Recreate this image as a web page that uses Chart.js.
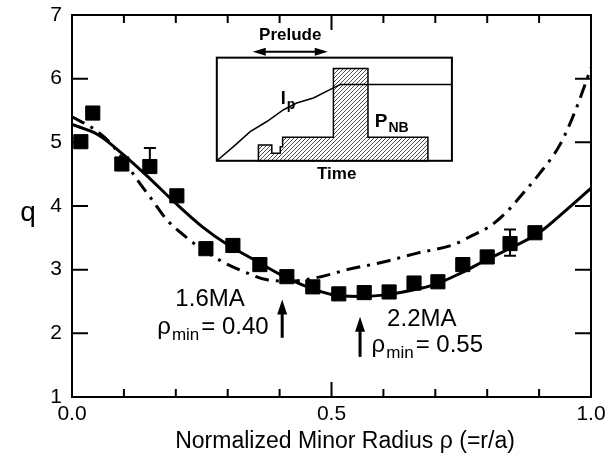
<!DOCTYPE html>
<html>
<head>
<meta charset="utf-8">
<script src="https://cdn.jsdelivr.net/npm/chart.js@4.4.0/dist/chart.umd.min.js"></script>
<style>
  html, body { margin: 0; padding: 0; background: #fff; }
</style>
</head>
<body>
<canvas id="qChart" width="613" height="464"></canvas>
<script>
// measured q profile (squares)
const rhoMeas = [0.017, 0.040, 0.096, 0.150, 0.202, 0.258, 0.310, 0.362, 0.414, 0.464,
                 0.514, 0.563, 0.611, 0.659, 0.705, 0.753, 0.800, 0.844, 0.892];
const qMeas   = [5.01, 5.46, 4.66, 4.62, 4.16, 3.33, 3.38, 3.08, 2.89, 2.73,
                 2.62, 2.64, 2.65, 2.79, 2.81, 3.08, 3.20, 3.41, 3.58];
const qErrLow  = [null, null, null, 4.55, null, null, null, null, null, null,
                  null, null, null, null, null, null, null, 3.22, null];
const qErrHigh = [null, null, null, 4.91, null, null, null, null, null, null,
                  null, null, null, null, null, null, null, 3.63, null];

// 2.2MA fit (solid)
const rhoFit22 = [0, 0.05, 0.1, 0.15, 0.2, 0.25, 0.3, 0.35, 0.4, 0.45, 0.5,
                  0.55, 0.6, 0.65, 0.7, 0.75, 0.8, 0.85, 0.9, 0.95, 1.0];
const qFit22   = [5.28, 5.12, 4.80, 4.43, 4.04, 3.68, 3.39, 3.16, 2.93, 2.74, 2.61,
                  2.58, 2.60, 2.67, 2.77, 2.95, 3.16, 3.36, 3.58, 3.92, 4.28];

// 1.6MA fit (dash-dot)
const rhoFit16 = [0, 0.044, 0.075, 0.1, 0.125, 0.154, 0.183, 0.214, 0.247, 0.291, 0.337,
                  0.376, 0.42, 0.48, 0.53, 0.60, 0.665, 0.734, 0.767, 0.805, 0.838,
                  0.867, 0.90, 0.94, 0.97, 1.0];
const qFit16   = [5.40, 5.20, 4.98, 4.72, 4.42, 4.10, 3.78, 3.55, 3.34, 3.12, 2.95,
                  2.84, 2.82, 2.89, 3.00, 3.12, 3.26, 3.39, 3.52, 3.68, 3.91,
                  4.18, 4.50, 4.96, 5.50, 6.17];

// q minimum positions marked by arrows
const rhoMinArrows = [0.405, 0.555];

// inset: plasma current and beam power vs time (normalised 0..1)
const ipTime  = [0, 0.071, 0.142, 0.213, 0.284, 0.340, 0.411, 0.496, 0.525, 1.0];
const ipLevel = [0, 0.137, 0.283, 0.381, 0.495, 0.560, 0.609, 0.707, 0.739, 0.739];
const pnbTime  = [0.177, 0.234, 0.270, 0.280, 0.496, 0.643, 0.898];
const pnbLevel = [0.153, 0.072, 0.137, 0.228, 0.896, 0.228];
const preludeTime = [0.153, 0.472];

const FONT = '"Liberation Sans", Arial, Helvetica, sans-serif';

// where the inset sits, in axis units
const insetBox = { rho0: 0.279, rho1: 0.732, q0: 4.71, q1: 6.33 };

function pts(xs, ys) {
    return xs.map((x, i) => ({ x: x, y: ys[i] }));
}

function hatchPattern(ctx) {
    const c = document.createElement('canvas');
    c.width = 4; c.height = 4;
    const g = c.getContext('2d');
    g.strokeStyle = '#000';
    g.lineWidth = 0.7;
    g.beginPath();
    g.moveTo(0, 4); g.lineTo(4, 0);
    g.moveTo(-1, 1); g.lineTo(1, -1);
    g.moveTo(3, 5); g.lineTo(5, 3);
    g.stroke();
    return ctx.createPattern(c, 'repeat');
}

function arrowHead(ctx, x, y, dir, len, half) {
    ctx.beginPath();
    if (dir === 'up') {
        ctx.moveTo(x, y); ctx.lineTo(x - half, y + len); ctx.lineTo(x + half, y + len);
    } else if (dir === 'left') {
        ctx.moveTo(x, y); ctx.lineTo(x + len, y - half); ctx.lineTo(x + len, y + half);
    } else {
        ctx.moveTo(x, y); ctx.lineTo(x - len, y - half); ctx.lineTo(x - len, y + half);
    }
    ctx.closePath();
    ctx.fill();
}

// text with a subscript, returns the x where it ends
function subText(ctx, x, y, main, sub, size, subSize, bold) {
    const w = bold ? 'bold ' : '';
    ctx.font = w + size + 'px ' + FONT;
    ctx.textAlign = 'left';
    ctx.textBaseline = 'alphabetic';
    ctx.fillText(main, x, y);
    const mw = ctx.measureText(main).width;
    ctx.font = w + subSize + 'px ' + FONT;
    ctx.fillText(sub, x + mw + 1, y + subSize * 0.35);
    return x + mw + 1 + ctx.measureText(sub).width;
}

function subTextWidth(ctx, main, sub, rest, size, subSize) {
    ctx.font = size + 'px ' + FONT;
    let w = ctx.measureText(main).width + ctx.measureText(rest).width + 3;
    ctx.font = subSize + 'px ' + FONT;
    return w + ctx.measureText(sub).width;
}

const errorBars = {
    id: 'errorBars',
    beforeDatasetsDraw(chart) {
        const ctx = chart.ctx, xs = chart.scales.x, ys = chart.scales.y;
        ctx.save();
        ctx.strokeStyle = '#000';
        ctx.lineWidth = 2;
        for (let i = 0; i < rhoMeas.length; i++) {
            if (qErrHigh[i] == null) continue;
            const x = xs.getPixelForValue(rhoMeas[i]);
            const y0 = ys.getPixelForValue(qErrLow[i]);
            const y1 = ys.getPixelForValue(qErrHigh[i]);
            ctx.beginPath();
            ctx.moveTo(x, y0); ctx.lineTo(x, y1);
            ctx.moveTo(x - 6, y0); ctx.lineTo(x + 6, y0);
            ctx.moveTo(x - 6, y1); ctx.lineTo(x + 6, y1);
            ctx.stroke();
        }
        ctx.restore();
    }
};

const frameAndNotes = {
    id: 'frameAndNotes',
    afterDraw(chart) {
        const ctx = chart.ctx, a = chart.chartArea;
        const xs = chart.scales.x, ys = chart.scales.y;
        ctx.save();
        ctx.strokeStyle = '#000';
        ctx.fillStyle = '#000';

        // frame
        ctx.lineWidth = 2;
        ctx.strokeRect(a.left, a.top, a.right - a.left, a.bottom - a.top);

        // inward ticks
        ctx.beginPath();
        for (let i = 0; i <= 10; i++) {
            const x = xs.getPixelForValue(i / 10);
            const len = (i % 5 === 0) ? 15 : 8;
            ctx.moveTo(x, a.bottom); ctx.lineTo(x, a.bottom - len);
            ctx.moveTo(x, a.top); ctx.lineTo(x, a.top + len);
        }
        for (let q = 2; q <= 6; q++) {
            const y = ys.getPixelForValue(q);
            ctx.moveTo(a.left, y); ctx.lineTo(a.left + 16, y);
            ctx.moveTo(a.right, y); ctx.lineTo(a.right - 16, y);
        }
        ctx.stroke();

        // axis titles
        ctx.font = '28px ' + FONT;
        ctx.textAlign = 'center';
        ctx.textBaseline = 'middle';
        ctx.fillText('q', 28, ys.getPixelForValue(4) + 7);
        ctx.font = '23px ' + FONT;
        ctx.textBaseline = 'alphabetic';
        ctx.fillText('Normalized Minor Radius \u03c1 (=r/a)', 345, 448);

        // rho_min arrows
        ctx.lineWidth = 3;
        const arrowSpan = [[1.93, 2.53], [1.63, 2.26]];
        rhoMinArrows.forEach((r, i) => {
            const x = xs.getPixelForValue(r);
            const yb = ys.getPixelForValue(arrowSpan[i][0]);
            const yt = ys.getPixelForValue(arrowSpan[i][1]);
            ctx.beginPath();
            ctx.moveTo(x, yb); ctx.lineTo(x, yt + 12);
            ctx.stroke();
            arrowHead(ctx, x, yt, 'up', 15, 5);
        });

        // current labels
        ctx.font = '24px ' + FONT;
        ctx.textAlign = 'center';
        ctx.textBaseline = 'middle';
        ctx.fillText('1.6MA', xs.getPixelForValue(0.266), ys.getPixelForValue(2.535));
        ctx.fillText('2.2MA', xs.getPixelForValue(0.674), ys.getPixelForValue(2.22));

        const notes = [['= 0.40', 0.379, 1.987], ['= 0.55', 0.792, 1.705]];
        notes.forEach(n => {
            const w = subTextWidth(ctx, '\u03c1', 'min', n[0], 24, 17);
            const xr = xs.getPixelForValue(n[1]), yb = ys.getPixelForValue(n[2]);
            const xe = subText(ctx, xr - w, yb, '\u03c1', 'min', 24, 17, false);
            ctx.font = '24px ' + FONT;
            ctx.fillText(n[0], xe + 2, yb);
        });

        // inset
        const bx0 = xs.getPixelForValue(insetBox.rho0), bx1 = xs.getPixelForValue(insetBox.rho1);
        const by0 = ys.getPixelForValue(insetBox.q0), by1 = ys.getPixelForValue(insetBox.q1);
        const bw = bx1 - bx0, bh = by0 - by1;
        const tx = t => bx0 + t * bw;
        const ty = v => by0 - v * bh;

        ctx.fillStyle = '#fff';
        ctx.fillRect(bx0, by1, bw, bh);
        ctx.fillStyle = '#000';

        ctx.beginPath();
        ctx.moveTo(tx(pnbTime[0]), ty(0));
        for (let i = 0; i < pnbLevel.length; i++) {
            ctx.lineTo(tx(pnbTime[i]), ty(pnbLevel[i]));
            ctx.lineTo(tx(pnbTime[i + 1]), ty(pnbLevel[i]));
        }
        ctx.lineTo(tx(pnbTime[pnbTime.length - 1]), ty(0));
        ctx.closePath();
        ctx.fillStyle = hatchPattern(ctx);
        ctx.fill();
        ctx.fillStyle = '#000';
        ctx.lineWidth = 1.5;
        ctx.stroke();

        ctx.beginPath();
        ipTime.forEach((t, i) => {
            if (i === 0) ctx.moveTo(tx(t), ty(ipLevel[i]));
            else ctx.lineTo(tx(t), ty(ipLevel[i]));
        });
        ctx.lineWidth = 1.5;
        ctx.stroke();

        ctx.lineWidth = 2;
        ctx.strokeRect(bx0, by1, bw, bh);

        // prelude arrow
        const ay = by1 - 6;
        const ax0 = tx(preludeTime[0]), ax1 = tx(preludeTime[1]);
        ctx.lineWidth = 2;
        ctx.beginPath();
        ctx.moveTo(ax0 + 8, ay); ctx.lineTo(ax1 - 8, ay);
        ctx.stroke();
        arrowHead(ctx, ax0, ay, 'left', 13, 4);
        arrowHead(ctx, ax1, ay, 'right', 13, 4);

        ctx.font = 'bold 17px ' + FONT;
        ctx.textAlign = 'center';
        ctx.textBaseline = 'middle';
        ctx.fillText('Prelude', tx((preludeTime[0] + preludeTime[1]) / 2), by1 - 22);
        ctx.fillText('Time', tx(0.51), by0 + 14);

        subText(ctx, tx(0.272), ty(0.55), 'I', 'p', 18, 14, true);
        subText(ctx, tx(0.672), ty(0.33), 'P', 'NB', 19, 14, true);

        ctx.restore();
    }
};

const dataSets = {
    datasets: [
        {
            label: '2.2MA',
            data: pts(rhoFit22, qFit22),
            showLine: true,
            borderColor: '#000',
            borderWidth: 3,
            pointRadius: 0,
            cubicInterpolationMode: 'monotone',
            fill: false
        },
        {
            label: '1.6MA',
            data: pts(rhoFit16, qFit16),
            showLine: true,
            borderColor: '#000',
            borderWidth: 3,
            borderDash: [14, 7, 3, 7],
            pointRadius: 0,
            cubicInterpolationMode: 'monotone',
            fill: false
        },
        {
            label: 'measured',
            data: pts(rhoMeas, qMeas),
            showLine: false,
            pointStyle: 'rect',
            pointRadius: 10,
            backgroundColor: '#000',
            borderColor: '#000',
            borderWidth: 1
        }
    ]
};

const configQ = {
    type: 'scatter',
    data: dataSets,
    options: {
        responsive: false,
        animation: false,
        devicePixelRatio: 1,
        layout: { padding: { top: 15, right: 22, left: 0, bottom: 0 } },
        plugins: { legend: { display: false }, tooltip: { enabled: false } },
        scales: {
            x: {
                type: 'linear',
                min: 0,
                max: 1,
                ticks: {
                    stepSize: 0.5,
                    maxRotation: 0,
                    padding: 5,
                    color: '#000',
                    font: { family: FONT, size: 21 },
                    callback: v => v.toFixed(1)
                },
                grid: { display: false, drawTicks: false },
                border: { display: false },
                afterFit: s => { s.height = 67; }
            },
            y: {
                min: 1,
                max: 7,
                ticks: {
                    stepSize: 1,
                    padding: 10,
                    color: '#000',
                    font: { family: FONT, size: 21, lineHeight: 0.4 }
                },
                grid: { display: false, drawTicks: false },
                border: { display: false },
                afterFit: s => { s.width = 72; }
            }
        }
    },
    plugins: [errorBars, frameAndNotes]
};

const qChart = new Chart(document.getElementById('qChart'), configQ);
</script>
</body>
</html>
